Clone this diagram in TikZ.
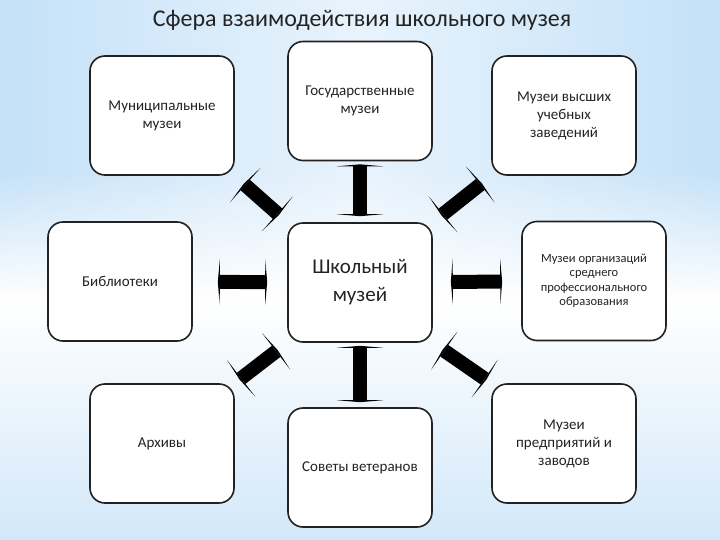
\documentclass[tikz,border=0pt]{standalone}
\usepackage{fontspec}
\setmainfont{Carlito}
\usetikzlibrary{arrows.meta,fadings}
\definecolor{skyedge}{RGB}{196,225,248}
\definecolor{skymid}{RGB}{232,243,252}
\definecolor{skylow}{RGB}{210,232,249}
\definecolor{boxline}{RGB}{34,34,34}
\definecolor{textgray}{RGB}{35,35,35}
\begin{document}
\begin{tikzpicture}[x=1pt,y=-1pt,
    box/.style={draw=boxline,line width=1.6pt,fill=white,rounded corners=15pt,
      minimum width=144pt,minimum height=119pt,inner sep=2pt,align=center,
      text=textgray,font=\fontsize{15}{18}\selectfont},
    link/.style={line width=14pt,
      {Triangle[width=46pt,length=2pt,line width=0pt]}-{Triangle[width=46pt,length=2pt,line width=0pt]}}]
  \useasboundingbox (0,0) rectangle (720,540);
  \shade[left color=skyedge,right color=skyedge,middle color=skymid] (0,0) rectangle (720,300);
  \fill[white,path fading=north] (0,170) rectangle (720,300);
  \shade[top color=white,bottom color=skylow] (0,300) rectangle (720,540);
  \node[text=textgray] (title) at (362,20) {\fontsize{24}{28}\selectfont Сфера взаимодействия школьного музея};
  \node[box,font=\fontsize{21}{28}\selectfont] (school) at (360,282.5) {Школьный\\музей};
  \node[box] (state) at (360,101) {Государственные\\музеи};
  \node[box] (munic) at (162,115.5) {Муниципальные\\музеи};
  \node[box] (univ) at (564,115.5) {Музеи высших\\учебных\\заведений};
  \node[box] (libr) at (120,281.5) {Библиотеки};
  \node[box,font=\fontsize{12.5}{14.5}\selectfont] (college) at (594,281) {Музеи организаций\\среднего\\профессионального\\образования};
  \node[box] (arch) at (162,443.5) {Архивы};
  \node[box] (veter) at (360,467.5) {Советы ветеранов};
  \node[box] (plant) at (564,443.5) {Музеи\\предприятий и\\заводов};
  \draw[link,shorten <=3pt,shorten >=6pt] (state) -- (school);
  \draw[link,shorten <=3pt,shorten >=5pt] (school) -- (veter);
  \draw[link,shorten <=25pt,shorten >=20pt] (libr) -- (school);
  \draw[link,shorten <=18pt,shorten >=19pt] (school) -- (college);
  \draw[link,shorten <=12pt,shorten >=11pt] (munic.south east) -- (school.north west);
  \draw[link,shorten <=12pt,shorten >=11pt] (univ.south west) -- (school.north east);
  \draw[link,shorten <=6pt,shorten >=12pt] (arch.north east) -- (school.south west);
  \draw[link,shorten <=6pt,shorten >=12pt] (plant.north west) -- (school.south east);
\end{tikzpicture}
\end{document}
